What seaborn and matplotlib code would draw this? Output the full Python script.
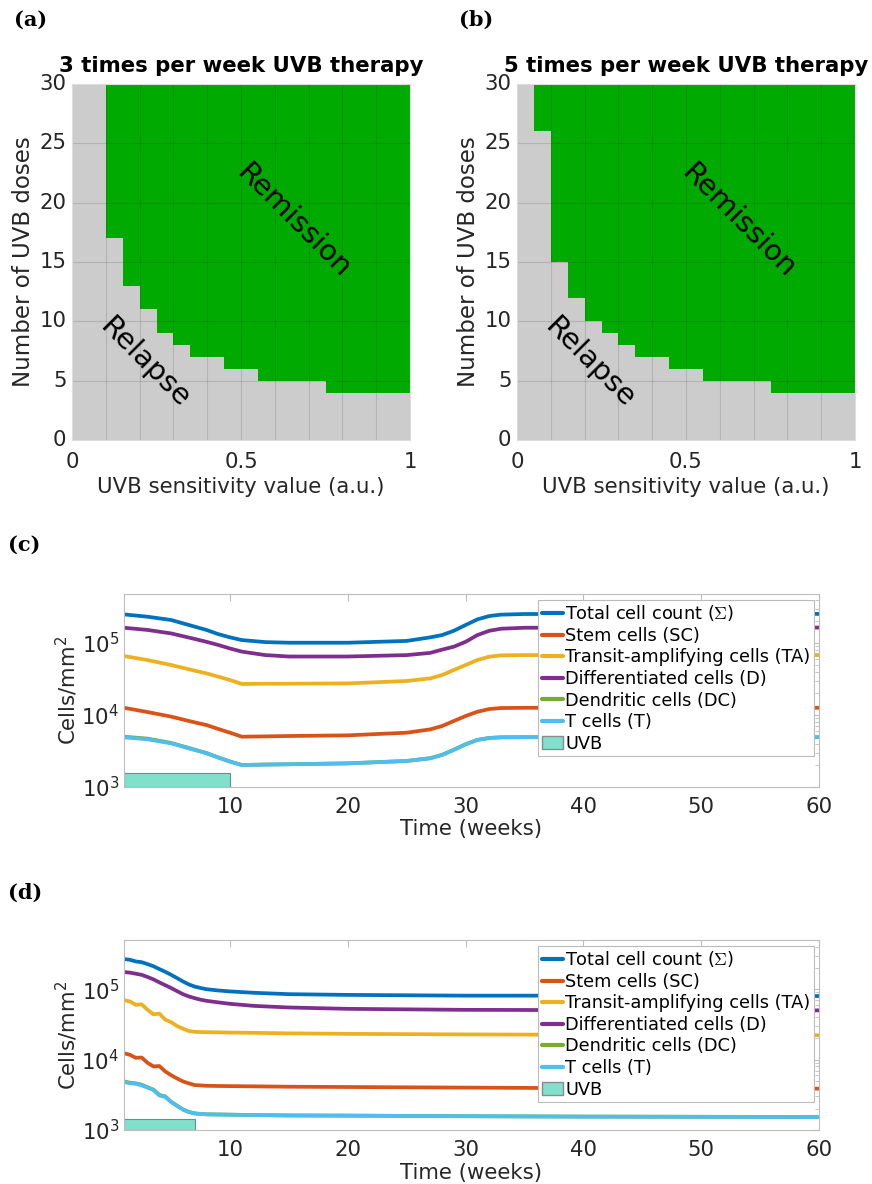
import numpy as np
import pandas as pd
import matplotlib
matplotlib.use("Agg")
import matplotlib.pyplot as plt
from matplotlib.colors import ListedColormap
from matplotlib.patches import Patch
from matplotlib.lines import Line2D
import seaborn as sns

# ---------- data: heatmaps (a), (b) ----------
# minimum number of UVB doses needed for remission, one value per sensitivity bin (width 0.05)
# 31 = no remission within 30 doses
sens_bins = np.round(np.arange(0.025, 1.0, 0.05), 3)
min_doses_3pw = [31, 31, 17, 13, 11, 9, 8, 7, 7, 6, 6, 5, 5, 5, 5, 4, 4, 4, 4, 4]
min_doses_5pw = [31, 26, 15, 12, 10, 9, 8, 7, 7, 6, 6, 5, 5, 5, 5, 4, 4, 4, 4, 4]
dose_bins = np.arange(30)

# ---------- data: time courses (c) ----------
t_c = [1, 3, 5, 7, 8, 9, 10, 11, 13, 15, 20, 25, 27, 28, 29, 30, 31, 32, 33, 35, 45, 60]
total_c = [2.50e5, 2.32e5, 2.09e5, 1.69e5, 1.52e5, 1.33e5, 1.20e5, 1.10e5, 1.03e5, 1.01e5, 1.01e5,
           1.07e5, 1.20e5, 1.29e5, 1.48e5, 1.78e5, 2.13e5, 2.37e5, 2.48e5, 2.53e5, 2.54e5, 2.54e5]
sc_c = [1.26e4, 1.10e4, 9.5e3, 7.9e3, 7.26e3, 6.4e3, 5.68e3, 5.0e3, 5.05e3, 5.11e3, 5.22e3,
        5.68e3, 6.32e3, 7.03e3, 8.26e3, 9.68e3, 1.11e4, 1.21e4, 1.25e4, 1.26e4, 1.26e4, 1.26e4]
ta_c = [6.6e4, 5.8e4, 4.95e4, 4.13e4, 3.79e4, 3.41e4, 3.06e4, 2.70e4, 2.72e4, 2.72e4, 2.75e4,
        2.97e4, 3.23e4, 3.59e4, 4.22e4, 4.95e4, 5.81e4, 6.46e4, 6.74e4, 6.8e4, 6.8e4, 6.8e4]
d_c = [1.63e5, 1.52e5, 1.36e5, 1.14e5, 1.04e5, 9.4e4, 8.4e4, 7.6e4, 6.8e4, 6.5e4, 6.5e4,
       6.8e4, 7.3e4, 8.1e4, 8.9e4, 1.04e5, 1.29e5, 1.48e5, 1.58e5, 1.63e5, 1.64e5, 1.64e5]
dc_c = [5.0e3, 4.7e3, 4.1e3, 3.3e3, 2.97e3, 2.58e3, 2.26e3, 2.02e3, 2.05e3, 2.07e3, 2.13e3,
        2.30e3, 2.52e3, 2.80e3, 3.30e3, 3.93e3, 4.52e3, 4.8e3, 4.9e3, 4.92e3, 4.92e3, 4.92e3]
t_cells_c = [4.9e3, 4.6e3, 4.04e3, 3.27e3, 2.94e3, 2.56e3, 2.25e3, 2.02e3, 2.05e3, 2.07e3, 2.13e3,
             2.30e3, 2.50e3, 2.78e3, 3.27e3, 3.91e3, 4.5e3, 4.8e3, 4.9e3, 4.92e3, 4.92e3, 4.92e3]
uvb_c = (1, 10, 1.56e3)  # start week, end week, bar top

# ---------- data: time courses (d) ----------
t_d = [1, 1.5, 2, 2.5, 3, 3.5, 4, 4.5, 5, 5.5, 6, 6.5, 7, 7.5, 8, 9, 10, 12, 15, 20, 30, 40, 50, 60]
total_d = [2.68e5, 2.62e5, 2.48e5, 2.42e5, 2.27e5, 2.12e5, 1.93e5, 1.77e5, 1.60e5, 1.44e5, 1.29e5, 1.17e5,
           1.09e5, 1.04e5, 1.00e5, 9.6e4, 9.3e4, 8.9e4, 8.5e4, 8.3e4, 8.1e4, 8.1e4, 8.0e4, 8.0e4]
sc_d = [1.23e4, 1.17e4, 1.06e4, 1.07e4, 9.0e3, 8.0e3, 8.1e3, 6.8e3, 6.0e3, 5.4e3, 4.9e3, 4.6e3,
        4.35e3, 4.3e3, 4.25e3, 4.22e3, 4.2e3, 4.17e3, 4.12e3, 4.08e3, 4.0e3, 3.93e3, 3.9e3, 3.87e3]
ta_d = [6.99e4, 6.7e4, 6.0e4, 6.1e4, 5.1e4, 4.4e4, 4.5e4, 3.7e4, 3.4e4, 3.0e4, 2.75e4, 2.55e4,
        2.48e4, 2.46e4, 2.45e4, 2.44e4, 2.42e4, 2.40e4, 2.36e4, 2.32e4, 2.28e4, 2.25e4, 2.23e4, 2.22e4]
d_d = [1.75e5, 1.72e5, 1.66e5, 1.60e5, 1.49e5, 1.38e5, 1.25e5, 1.14e5, 1.04e5, 9.4e4, 8.5e4, 7.9e4,
       7.46e4, 7.1e4, 6.84e4, 6.5e4, 6.2e4, 5.8e4, 5.5e4, 5.26e4, 5.09e4, 5.05e4, 5.02e4, 5.0e4]
dc_d = [4.9e3, 4.7e3, 4.6e3, 4.4e3, 4.05e3, 3.75e3, 3.15e3, 3.0e3, 2.52e3, 2.22e3, 1.96e3, 1.81e3,
        1.72e3, 1.69e3, 1.67e3, 1.66e3, 1.65e3, 1.63e3, 1.61e3, 1.60e3, 1.57e3, 1.55e3, 1.54e3, 1.53e3]
t_cells_d = [4.8e3, 4.6e3, 4.55e3, 4.3e3, 4.0e3, 3.7e3, 3.1e3, 2.95e3, 2.5e3, 2.2e3, 1.95e3, 1.8e3,
             1.72e3, 1.69e3, 1.67e3, 1.66e3, 1.65e3, 1.63e3, 1.61e3, 1.60e3, 1.57e3, 1.55e3, 1.54e3, 1.53e3]
uvb_d = (1, 7, 1.45e3)

series_labels = ["Total cell count ($\\Sigma$)", "Stem cells (SC)", "Transit-amplifying cells (TA)",
                 "Differentiated cells (D)", "Dendritic cells (DC)", "T cells (T)"]
series_colors = ["#0072BD", "#D95319", "#EDB120", "#7E2F8E", "#77AC30", "#4DBEEE"]

GREEN = "#00AA00"
GRAY = "#CCCCCC"
TXT = "#262626"
AXC = "#BDBDBD"
UVB_COLOR = "#80E0CB"
FS = 15.3

sns.set_style("white")
plt.rcParams["font.family"] = ["DejaVu Sans"]
plt.rcParams["mathtext.fontset"] = "dejavusans"

W, H = 872, 1184
fig = plt.figure(figsize=(W / 100, H / 100), dpi=100)


def px_axes(left, top, right, bottom):
    return fig.add_axes([left / W, 1 - bottom / H, (right - left) / W, (bottom - top) / H])


def draw_map(ax, min_doses, title):
    mat = (dose_bins[:, None] >= np.array(min_doses)[None, :]).astype(int)
    df = pd.DataFrame(mat, index=dose_bins, columns=sens_bins)
    sns.heatmap(df, ax=ax, cmap=ListedColormap([GRAY, GREEN]), vmin=0, vmax=1, cbar=False)
    ax.set_ylim(0, 30)
    ax.set_xlim(0, 20)
    for x in range(2, 20, 2):
        ax.axvline(x, color=TXT, alpha=0.15, lw=0.8)
    for y in range(5, 30, 5):
        ax.axhline(y, color=TXT, alpha=0.15, lw=0.8)
    ax.set_xticks([0, 10, 20])
    ax.set_xticklabels(["0", "0.5", "1"], rotation=0)
    ax.set_yticks(range(0, 31, 5))
    ax.set_yticklabels([str(v) for v in range(0, 31, 5)], rotation=0)
    ax.tick_params(length=0, labelsize=FS, labelcolor=TXT)
    ax.tick_params(axis="x", pad=9)
    ax.tick_params(axis="y", pad=4)
    for s in ax.spines.values():
        s.set_visible(True)
        s.set_color("#DDDDDD")
        s.set_linewidth(0.8)
    ax.set_xlabel("UVB sensitivity value (a.u.)", fontsize=FS, color=TXT, labelpad=3)
    ax.set_ylabel("Number of UVB doses", fontsize=16.5, color=TXT, labelpad=3)
    ax.set_title(title, fontsize=15.3, fontweight="bold", color="black", pad=9)
    ax.text(13.1, 18.5, "Remission", rotation=-45, fontsize=21, color="black",
            ha="center", va="center")
    ax.text(4.3, 6.5, "Relapse", rotation=-45, fontsize=21, color="black",
            ha="center", va="center")


def draw_course(ax, t, series, uvb, ytop):
    for vals, lab, col in zip(series, series_labels, series_colors):
        sns.lineplot(x=t, y=vals, ax=ax, color=col, lw=2.7, label=lab, legend=False)
    start, end, top = uvb
    ax.bar([start], [top - 1e3], width=end - start, bottom=1e3, align="edge",
           color=UVB_COLOR, edgecolor="#6A8F86", lw=0.8, zorder=1)
    ax.set_yscale("log")
    ax.set_ylim(1e3, ytop)
    ax.set_xlim(1, 60)
    ax.set_xticks(range(10, 61, 10))
    ax.tick_params(which="both", direction="in", top=True, right=True, color=AXC,
                   labelcolor=TXT, labelsize=FS)
    ax.tick_params(which="major", length=5)
    ax.tick_params(which="minor", length=3)
    ax.tick_params(axis="x", pad=7)
    for s in ax.spines.values():
        s.set_color(AXC)
        s.set_linewidth(0.8)
    ax.set_xlabel("Time (weeks)", fontsize=FS, color=TXT, labelpad=2)
    ax.set_ylabel("Cells/mm$^2$", fontsize=FS, color=TXT, labelpad=1)
    handles = [Line2D([], [], color=c, lw=3) for c in series_colors]
    handles.append(Patch(facecolor=UVB_COLOR, edgecolor="#8A8A8A"))
    leg = ax.legend(handles, series_labels + ["UVB"], loc="upper right",
                    bbox_to_anchor=(0.993, 0.97), fontsize=12.8, frameon=True, fancybox=False,
                    framealpha=1, edgecolor="#BBBBBB", handlelength=1.2, handletextpad=0.12,
                    labelspacing=0.2, borderpad=0.2, borderaxespad=0)
    leg.get_frame().set_linewidth(0.8)
    leg.get_texts()[0].set_math_fontfamily("cm")
    for txt in leg.get_texts():
        txt.set_color("black")


ax_a = px_axes(72, 84, 410, 440)
draw_map(ax_a, min_doses_3pw, "3 times per week UVB therapy")
ax_b = px_axes(517, 84, 855, 440)
draw_map(ax_b, min_doses_5pw, "5 times per week UVB therapy")

ax_c = px_axes(124, 594, 819, 787)
draw_course(ax_c, t_c, [total_c, sc_c, ta_c, d_c, dc_c, t_cells_c], uvb_c, 4.8e5)
ax_d = px_axes(124, 940, 819, 1130)
draw_course(ax_d, t_d, [total_d, sc_d, ta_d, d_d, dc_d, t_cells_d], uvb_d, 5.0e5)

for lab, x, y in [("(a)", 14, 20), ("(b)", 459, 20), ("(c)", 8, 545), ("(d)", 8, 893)]:
    fig.text(x / W, 1 - y / H, lab, fontsize=15, fontweight="bold", family="DejaVu Serif",
             va="center", ha="left", color="black")

fig.savefig("out.png", dpi=100)
